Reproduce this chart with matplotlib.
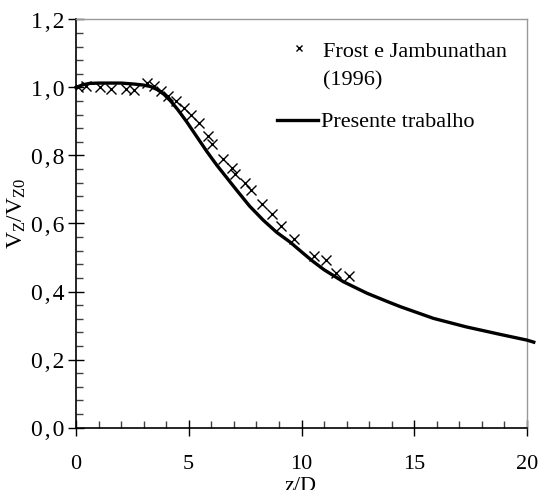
import numpy as np
import matplotlib
matplotlib.use("Agg")
import matplotlib.pyplot as plt
from matplotlib.ticker import MultipleLocator

# Frost e Jambunathan (1996): measured decay of the axial velocity
z_exp = [0.1, 0.45, 1.05, 1.55, 2.2, 2.55, 3.15, 3.45, 3.75, 4.1, 4.45, 4.8,
         5.1, 5.45, 5.85, 6.05, 6.5, 6.9, 7.05, 7.5, 7.75, 8.25, 8.7, 9.1,
         9.65, 10.55, 11.1, 11.55, 12.1]
v_exp = [1.0, 1.004, 1.0, 0.997, 0.997, 0.992, 1.012, 1.005, 0.99, 0.975, 0.96, 0.94,
         0.92, 0.895, 0.856, 0.835, 0.789, 0.764, 0.746, 0.718, 0.698, 0.657, 0.628, 0.592,
         0.555, 0.503, 0.494, 0.453, 0.447]

# presente trabalho: computed profile
z_num = [0.0, 0.3, 0.6, 1.0, 2.0, 2.6, 3.0, 3.3, 3.6, 3.9, 4.2, 4.5, 4.9,
         5.35, 5.8, 6.25, 6.55, 7.1, 7.7, 8.3, 8.9, 9.5, 10.1, 10.5, 11.0,
         11.85, 12.9, 13.9, 14.4, 15.85, 17.3, 18.8, 20.0, 20.3]
v_num = [1.0, 1.008, 1.012, 1.013, 1.013, 1.01, 1.007, 1.003, 0.994, 0.98, 0.96, 0.936, 0.90,
         0.856, 0.812, 0.771, 0.746, 0.70, 0.651, 0.61, 0.574, 0.545, 0.511, 0.489, 0.464,
         0.429, 0.395, 0.368, 0.355, 0.321, 0.296, 0.274, 0.257, 0.251]

xticks = [0, 5, 10, 15, 20]
xticklabels = ["0", "5", "10", "15", "20"]
yticks = [0.0, 0.2, 0.4, 0.6, 0.8, 1.0, 1.2]
yticklabels = ["0,0", "0,2", "0,4", "0,6", "0,8", "1,0", "1,2"]

plt.rcParams.update({"font.family": ["Liberation Serif", "DejaVu Serif"],
                     "mathtext.fontset": "custom",
                     "mathtext.rm": "Liberation Serif", "mathtext.it": "Liberation Serif:italic"})

fig = plt.figure(figsize=(5.41, 4.90), dpi=100)
ax = fig.add_axes([76/541, 1-427.5/490, 451/541, 408/490])

ax.plot(z_num, v_num, '-', color='k', lw=2.4, clip_on=False, zorder=3)
ax.plot(z_exp, v_exp, 'x', color='k', ms=7.5, mew=1.0, ls='none', zorder=4)

ax.set_xlim(0, 20); ax.set_ylim(0, 1.2)
ax.set_xticks(xticks); ax.set_xticklabels(xticklabels)
ax.set_yticks(yticks)
# the y labels are set a little looser than the x labels
ax.set_yticklabels([s.replace(",", "\u200a,\u200a") for s in yticklabels], fontsize=17)
ax.xaxis.set_minor_locator(MultipleLocator(1))
ax.yaxis.set_minor_locator(MultipleLocator(0.04))
ax.tick_params(which='major', direction='inout', length=11, width=1.0, color='k')
ax.tick_params(axis='x', which='major', pad=14, labelsize=16)
ax.tick_params(axis='y', which='major', pad=3)
ax.tick_params(which='minor', direction='in', length=5, width=1.0, color='0.25')
ax.tick_params(top=False, right=False, which='both')
for s in ("left", "bottom"):
    ax.spines[s].set_linewidth(1.2); ax.spines[s].set_color('k')
for s in ("top", "right"):
    ax.spines[s].set_linewidth(1.0); ax.spines[s].set_color('0.6')

# legend, drawn in axes coordinates
ax.plot([0.494], [0.930], 'x', color='k', ms=5, mew=1.0, transform=ax.transAxes, clip_on=False)
ax.text(0.548, 0.909, "Frost e Jambunathan", fontsize=16, va='baseline', transform=ax.transAxes)
ax.text(0.548, 0.839, "(1996)", fontsize=16, va='baseline', transform=ax.transAxes)
ax.plot([0.446, 0.537], [0.754, 0.754], '-', color='k', lw=2.4, transform=ax.transAxes, clip_on=False)
ax.text(0.543, 0.737, "Presente trabalho", fontsize=16, va='baseline', transform=ax.transAxes)

fig.text(17/541, 1-213/490, r"$\mathregular{V_Z/V_{Z0}}$", rotation=90, fontsize=17,
         ha='center', va='center')
fig.text(300/541, 1-491/490, "z/D", fontsize=16, ha='center', va='baseline')

fig.savefig("out.png", dpi=100)
